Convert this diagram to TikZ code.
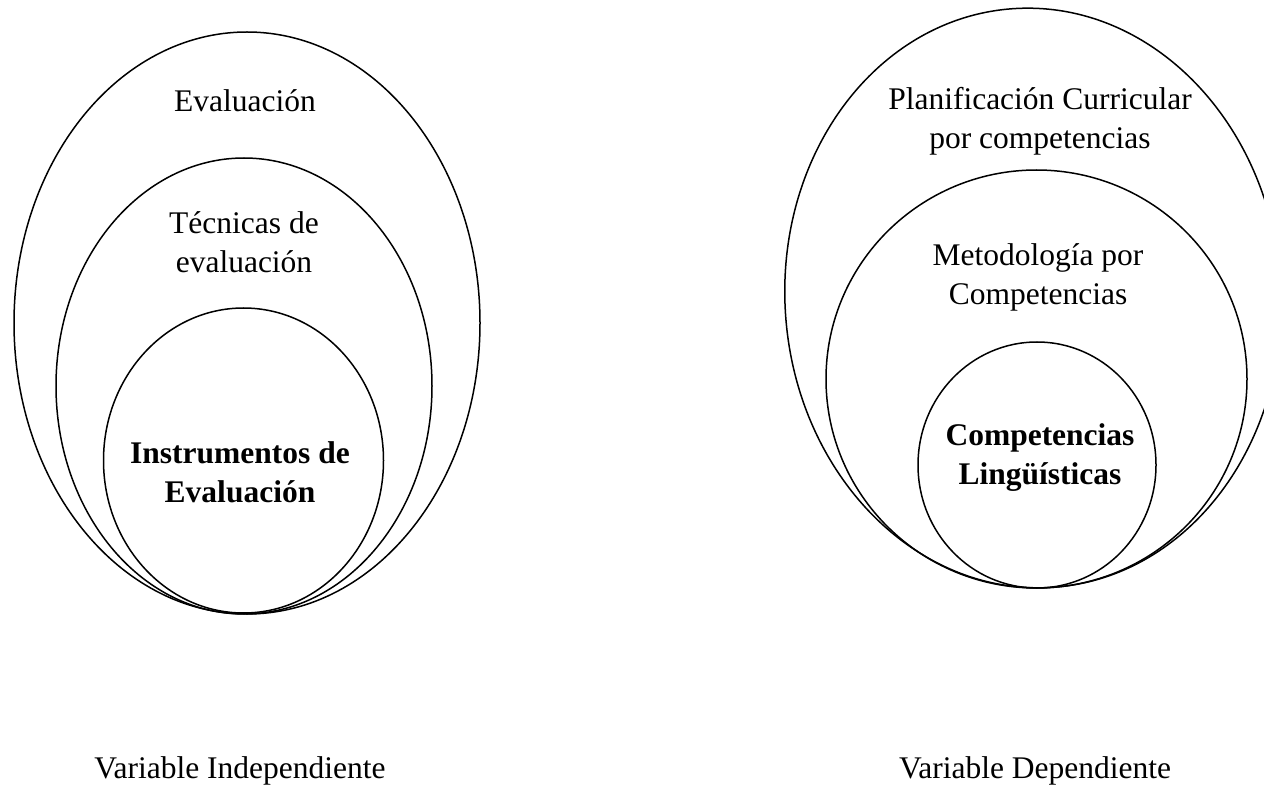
\documentclass[tikz,border=0pt]{standalone}
\usepackage{fontspec}
\setmainfont{Liberation Serif}
\usetikzlibrary{positioning,shapes.geometric}

\begin{document}
\begin{tikzpicture}[x=1pt, y=-1pt,
		ring/.style={ellipse, draw, line width=1.5pt, inner sep=0pt, outer sep=0pt},
		txt/.style={align=center, inner sep=0pt, font=\fontsize{31.5}{39}\selectfont},
		boldtxt/.style={txt, font=\fontsize{31.5}{39}\selectfont\bfseries}]
		\useasboundingbox (0,0) rectangle (1264,802);
		\clip (0,0) rectangle (1264,802);

		% Variable independiente
		\node [ring, minimum width=466pt, minimum height=582pt] (evalOuter) at (247,323) {};
		\node [ring, minimum width=376pt, minimum height=456pt] (evalMiddle) at (244,386) {};
		\node [ring, minimum width=280pt, minimum height=305pt] (evalInner) at (243.5,460.5) {};

		\node [txt] (evaluacion) at (245,101) {Evaluación};
		\node [txt] (tecnicas) at (244,242) {Técnicas de\\evaluación};
		\node [boldtxt] (instrumentos) at (240,472) {Instrumentos de\\Evaluación};
		\node [txt, anchor=base] (varInd) at (240,778) {Variable Independiente};

		% Variable dependiente
		\node [ring, rotate=4, minimum width=496pt, minimum height=580pt] (planOuter) at (1033,298) {};
		\node [ring, minimum width=421pt, minimum height=418pt] (planMiddle) at (1036.5,379) {};
		\node [ring, minimum width=238pt, minimum height=246pt] (planInner) at (1037,465) {};

		\node [txt] (planificacion) at (1040,121) {Planificación Curricular\\por competencias};
		\node [txt] (metodologia) at (1038,277) {Metodología por\\Competencias};
		\node [boldtxt] (linguisticas) at (1040,458) {Competencias\\Lingüísticas};
		\node [txt, anchor=base] (varDep) at (1035,778) {Variable Dependiente};
	\end{tikzpicture}
\end{document}
